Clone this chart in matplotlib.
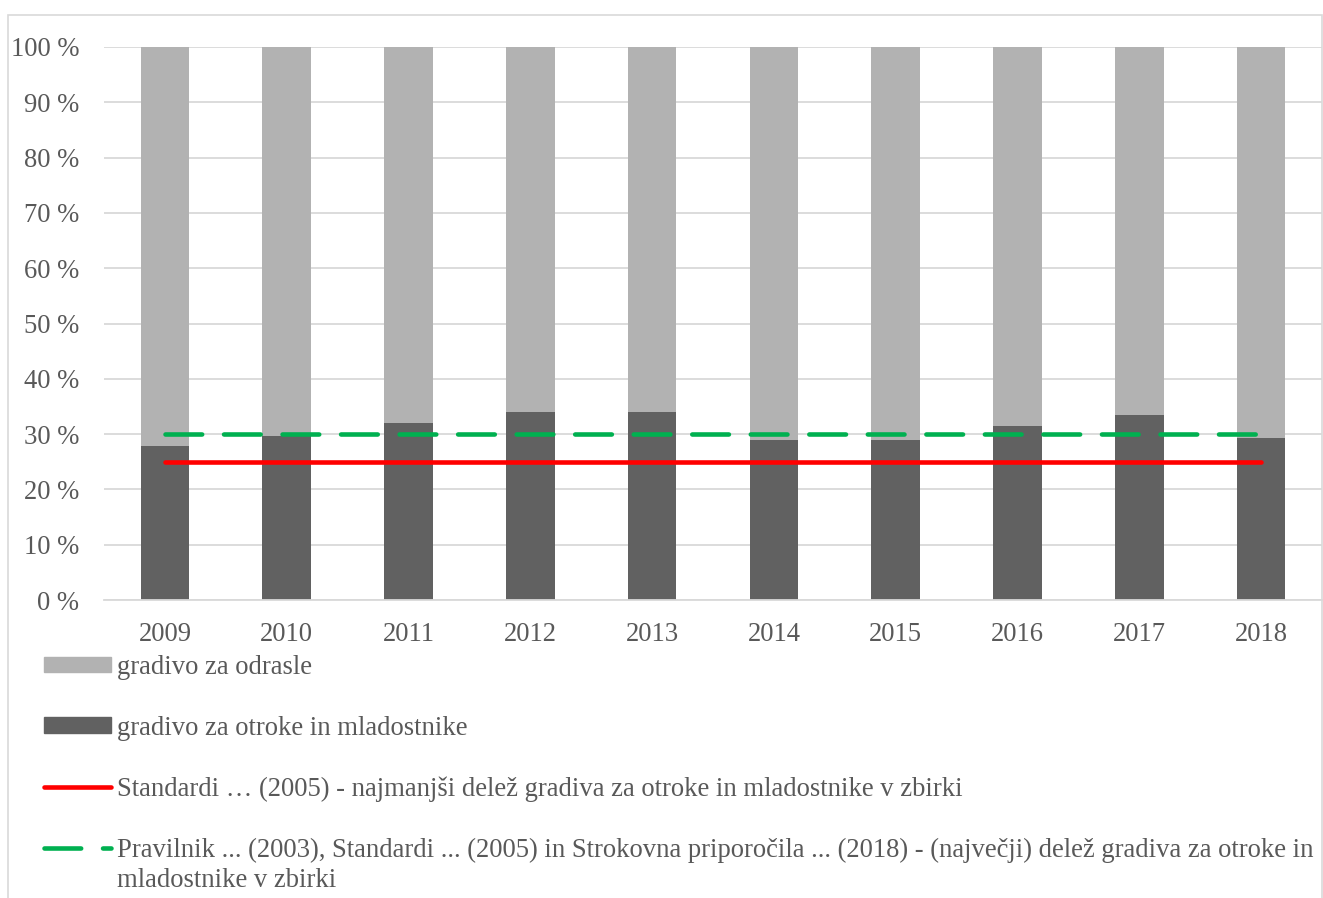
import numpy as np
import matplotlib
matplotlib.use("Agg")
import matplotlib.pyplot as plt
from matplotlib.lines import Line2D
from matplotlib.patches import Patch, Rectangle

# data
years = ["2009", "2010", "2011", "2012", "2013", "2014", "2015", "2016", "2017", "2018"]
otroci = [27.8, 29.6, 32.0, 34.0, 34.0, 29.0, 29.0, 31.5, 33.5, 29.3]   # % gradiva za otroke in mladostnike
odrasli = [100 - v for v in otroci]                                    # % gradiva za odrasle
najmanjsi = 25   # Standardi (2005)
najvecji = 30    # Pravilnik / Standardi / Strokovna priporocila

lab_odrasli = "gradivo za odrasle"
lab_otroci = "gradivo za otroke in mladostnike"
lab_red = "Standardi … (2005) - najmanjši delež gradiva za otroke in mladostnike v zbirki"
lab_green_1 = ("Pravilnik ... (2003), Standardi ... (2005) in Strokovna priporočila ... (2018)"
               " - (največji) delež gradiva za otroke in")
lab_green_2 = "mladostnike v zbirki"

txt_col = "#595959"
grid_col = "#d9d9d9"
light = "#b2b2b2"
dark = "#616161"
fs = 19.2

plt.rcParams["font.family"] = ["Liberation Serif", "DejaVu Serif"]
plt.rcParams["font.size"] = fs

W, H = 1323, 898
fig = plt.figure(figsize=(W / 100, H / 100), dpi=100)
ax = fig.add_axes([104 / W, 1 - 600 / H, (1322 - 104) / W, (600 - 47) / H])

x = np.arange(len(years))
ax.bar(x, otroci, width=0.4, color=dark, zorder=2)
ax.bar(x, odrasli, width=0.4, bottom=otroci, color=light, zorder=2)

ax.plot(x, [najmanjsi] * len(x), color="#ff0000", lw=3.3, solid_capstyle="round", zorder=3)
ax.plot(x, [najvecji] * len(x), color="#00b050", lw=3.3, dashes=(8.0, 4.77),
        dash_capstyle="round", zorder=3)

ax.set_xlim(-0.5, len(years) - 0.5)
ax.set_ylim(0, 100)
ax.set_yticks(np.arange(0, 101, 10))
ax.set_yticklabels([f"{v} %" for v in range(0, 101, 10)])
ax.set_xticks(x)
ax.set_xticklabels(years)
ax.tick_params(axis="y", length=0, pad=18, colors=txt_col)
ax.tick_params(axis="x", length=0, pad=16, colors=txt_col)
ax.grid(axis="y", color=grid_col, lw=1.3, zorder=0)
ax.set_axisbelow(True)
for s in ["left", "right", "top"]:
    ax.spines[s].set_visible(False)
ax.spines["bottom"].set_color(grid_col)
ax.spines["bottom"].set_linewidth(1.3)

# outer chart border
fig.patches.append(Rectangle((8 / W, -0.05), (1322 - 8) / W, 1.05 - 15 / H,
                             transform=fig.transFigure, fill=False,
                             edgecolor=grid_col, lw=1.2))

handles = [Patch(color=light), Patch(color=dark),
           Line2D([], [], color="#ff0000", lw=3.3, solid_capstyle="round"),
           Line2D([], [], color="#00b050", lw=3.3, dashes=(8.0, 4.77), dash_capstyle="round")]
labels = [lab_odrasli, lab_otroci, lab_red, lab_green_1]
leg = fig.legend(handles, labels, loc="upper left", bbox_to_anchor=(44 / W, 1 - 655 / H),
                 frameon=False, fontsize=fs, handlelength=2.5, handleheight=0.53,
                 handletextpad=0.23, labelspacing=1.34, borderpad=0, borderaxespad=0,
                 labelcolor=txt_col)

fig.canvas.draw()
bb = leg.get_texts()[3].get_window_extent()
fig.text(bb.x0 / W, (bb.y0 - 30) / H, lab_green_2, color=txt_col, fontsize=fs,
         va="bottom", ha="left")

fig.savefig("out.png", dpi=100)
